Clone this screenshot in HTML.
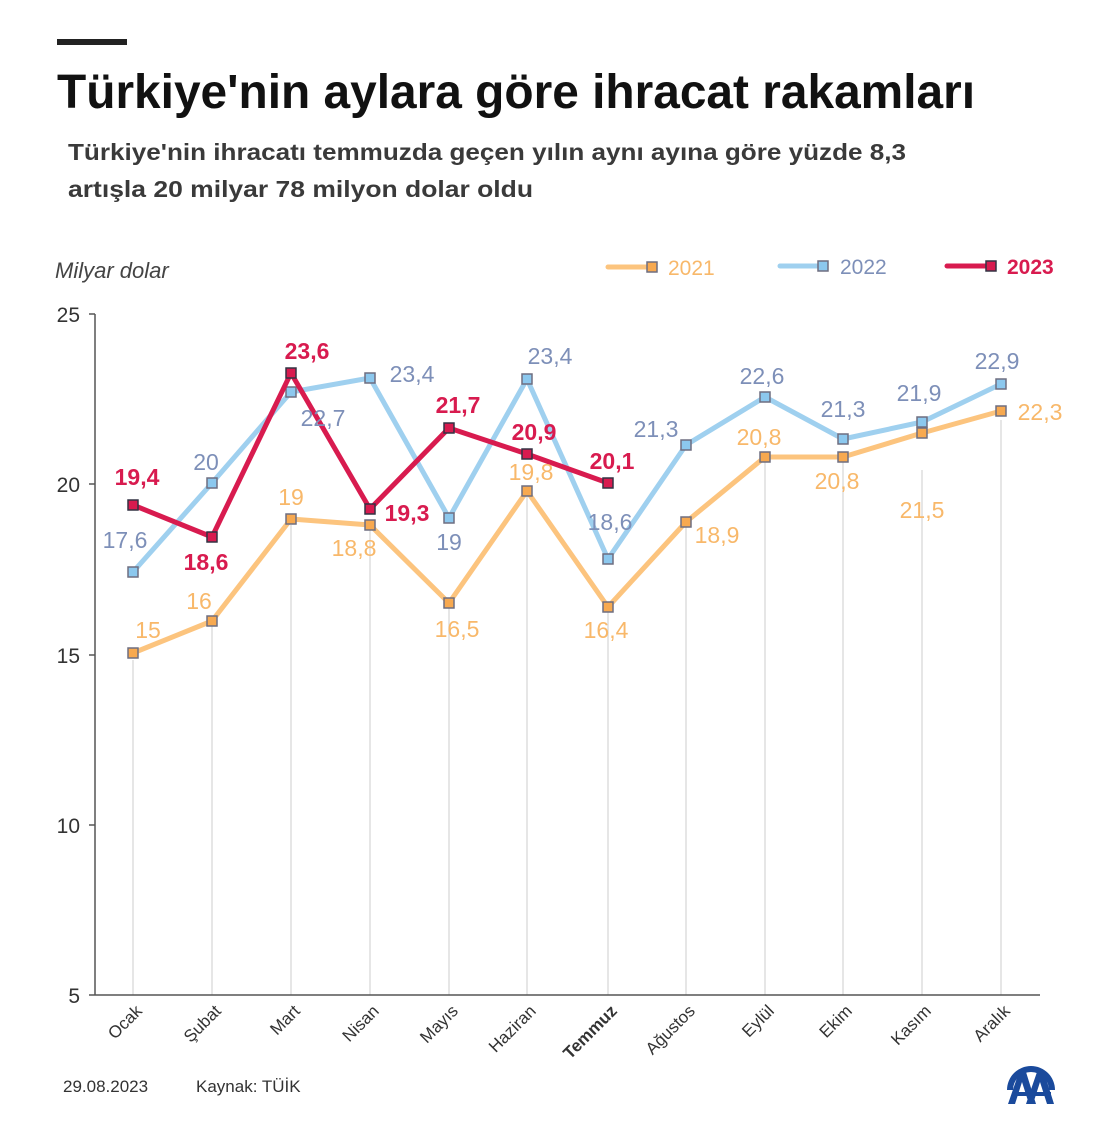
<!DOCTYPE html>
<html><head><meta charset="utf-8"><style>
body{margin:0;background:#fff;}
svg{display:block;font-family:"Liberation Sans",sans-serif;}
</style></head><body>
<svg width="1120" height="1148" viewBox="0 0 1120 1148" xmlns="http://www.w3.org/2000/svg">
<rect x="57" y="39" width="70" height="6" fill="#222"/>
<text x="57" y="108" font-size="48" font-weight="bold" fill="#111" textLength="918" lengthAdjust="spacingAndGlyphs">Türkiye'nin aylara göre ihracat rakamları</text>
<text x="68" y="160" font-size="23" font-weight="bold" fill="#3a3a3a" textLength="838" lengthAdjust="spacingAndGlyphs">Türkiye'nin ihracatı temmuzda geçen yılın aynı ayına göre yüzde 8,3</text>
<text x="68" y="197" font-size="23" font-weight="bold" fill="#3a3a3a" textLength="465" lengthAdjust="spacingAndGlyphs">artışla 20 milyar 78 milyon dolar oldu</text>
<text x="55" y="278" font-size="22" font-style="italic" fill="#444">Milyar dolar</text>
<line x1="608" y1="267" x2="650" y2="267" stroke="#fcc47e" stroke-width="5" stroke-linecap="round"/>
<rect x="647" y="262" width="10" height="10" fill="#f7a950" stroke="#6e6e80" stroke-width="1.5"/>
<text x="668" y="275" font-size="21" fill="#f8b86a">2021</text>
<line x1="780" y1="266" x2="820" y2="266" stroke="#9fd0ef" stroke-width="5" stroke-linecap="round"/>
<rect x="818" y="261" width="10" height="10" fill="#8cc8ee" stroke="#6e6e80" stroke-width="1.5"/>
<text x="840" y="274" font-size="21" fill="#7d8fb8">2022</text>
<line x1="947" y1="266" x2="990" y2="266" stroke="#d81b4f" stroke-width="5" stroke-linecap="round"/>
<rect x="986" y="261" width="10" height="10" fill="#d81b4f" stroke="#333344" stroke-width="1.5"/>
<text x="1007" y="274" font-size="21" font-weight="bold" fill="#d81b4f">2023</text>
<g stroke="#ddd" stroke-width="1.5">
<line x1="133" y1="660" x2="133" y2="995"/><line x1="212" y1="625" x2="212" y2="995"/>
<line x1="291" y1="525" x2="291" y2="995"/><line x1="370" y1="530" x2="370" y2="995"/>
<line x1="449" y1="608" x2="449" y2="995"/><line x1="527" y1="495" x2="527" y2="995"/>
<line x1="608" y1="612" x2="608" y2="995"/><line x1="686" y1="527" x2="686" y2="995"/>
<line x1="765" y1="462" x2="765" y2="995"/><line x1="843" y1="462" x2="843" y2="995"/>
<line x1="922" y1="470" x2="922" y2="995"/><line x1="1001" y1="420" x2="1001" y2="995"/>
</g>
<g stroke="#555" stroke-width="1.5">
<line x1="95" y1="314" x2="95" y2="995"/><line x1="95" y1="995" x2="1040" y2="995"/>
<line x1="89" y1="314" x2="95" y2="314"/><line x1="89" y1="484" x2="95" y2="484"/><line x1="89" y1="655" x2="95" y2="655"/><line x1="89" y1="825" x2="95" y2="825"/><line x1="89" y1="995" x2="95" y2="995"/>
</g>
<g font-size="21" fill="#333" text-anchor="end">
<text x="80" y="322">25</text><text x="80" y="492">20</text><text x="80" y="663">15</text><text x="80" y="833">10</text><text x="80" y="1003">5</text>
</g>
<g font-size="17" fill="#333" text-anchor="end">
<text transform="translate(143,1012) rotate(-45)">Ocak</text>
<text transform="translate(222,1012) rotate(-45)">Şubat</text>
<text transform="translate(301,1012) rotate(-45)">Mart</text>
<text transform="translate(380,1012) rotate(-45)">Nisan</text>
<text transform="translate(459,1012) rotate(-45)">Mayıs</text>
<text transform="translate(537,1012) rotate(-45)">Haziran</text>
<text transform="translate(618,1012) rotate(-45)" font-weight="bold">Temmuz</text>
<text transform="translate(696,1012) rotate(-45)">Ağustos</text>
<text transform="translate(775,1012) rotate(-45)">Eylül</text>
<text transform="translate(853,1012) rotate(-45)">Ekim</text>
<text transform="translate(932,1012) rotate(-45)">Kasım</text>
<text transform="translate(1011,1012) rotate(-45)">Aralık</text>
</g>
<polyline fill="none" stroke="#fcc47e" stroke-width="5" stroke-linejoin="round" points="133,653 212,621 291,519 370,525 449,603 527,491 608,607 686,522 765,457 843,457 922,433 1001,411"/>
<g fill="#f7a950" stroke="#6e6e80" stroke-width="1.5">
<rect x="128" y="648" width="10" height="10"/><rect x="207" y="616" width="10" height="10"/><rect x="286" y="514" width="10" height="10"/><rect x="365" y="520" width="10" height="10"/><rect x="444" y="598" width="10" height="10"/><rect x="522" y="486" width="10" height="10"/><rect x="603" y="602" width="10" height="10"/><rect x="681" y="517" width="10" height="10"/><rect x="760" y="452" width="10" height="10"/><rect x="838" y="452" width="10" height="10"/><rect x="917" y="428" width="10" height="10"/><rect x="996" y="406" width="10" height="10"/>
</g>
<polyline fill="none" stroke="#9fd0ef" stroke-width="5" stroke-linejoin="round" points="133,572 212,483 291,392 370,378 449,518 527,379 608,559 686,445 765,397 843,439 922,422 1001,384"/>
<g fill="#8cc8ee" stroke="#6e6e80" stroke-width="1.5">
<rect x="128" y="567" width="10" height="10"/><rect x="207" y="478" width="10" height="10"/><rect x="286" y="387" width="10" height="10"/><rect x="365" y="373" width="10" height="10"/><rect x="444" y="513" width="10" height="10"/><rect x="522" y="374" width="10" height="10"/><rect x="603" y="554" width="10" height="10"/><rect x="681" y="440" width="10" height="10"/><rect x="760" y="392" width="10" height="10"/><rect x="838" y="434" width="10" height="10"/><rect x="917" y="417" width="10" height="10"/><rect x="996" y="379" width="10" height="10"/>
</g>
<polyline fill="none" stroke="#d81b4f" stroke-width="5" stroke-linejoin="round" points="133,505 212,537 291,373 370,509 449,428 527,454 608,483"/>
<g fill="#d81b4f" stroke="#333344" stroke-width="1.5">
<rect x="128" y="500" width="10" height="10"/><rect x="207" y="532" width="10" height="10"/><rect x="286" y="368" width="10" height="10"/><rect x="365" y="504" width="10" height="10"/><rect x="444" y="423" width="10" height="10"/><rect x="522" y="449" width="10" height="10"/><rect x="603" y="478" width="10" height="10"/>
</g>
<g font-size="23" fill="#f8b86a" text-anchor="middle">
<text x="148" y="638">15</text><text x="199" y="609">16</text><text x="291" y="505">19</text><text x="354" y="556">18,8</text><text x="457" y="637">16,5</text><text x="531" y="480">19,8</text><text x="606" y="638">16,4</text><text x="717" y="543">18,9</text><text x="759" y="445">20,8</text><text x="837" y="489">20,8</text><text x="922" y="518">21,5</text><text x="1040" y="420">22,3</text>
</g>
<g font-size="23" fill="#7d8fb8" text-anchor="middle">
<text x="125" y="548">17,6</text><text x="206" y="470">20</text><text x="323" y="426">22,7</text><text x="412" y="382">23,4</text><text x="449" y="550">19</text><text x="550" y="364">23,4</text><text x="610" y="530">18,6</text><text x="656" y="437">21,3</text><text x="762" y="384">22,6</text><text x="843" y="417">21,3</text><text x="919" y="401">21,9</text><text x="997" y="369">22,9</text>
</g>
<g font-size="23" font-weight="bold" fill="#d81b4f" text-anchor="middle">
<text x="137" y="485">19,4</text><text x="206" y="570">18,6</text><text x="307" y="359">23,6</text><text x="407" y="521">19,3</text><text x="458" y="413">21,7</text><text x="534" y="440">20,9</text><text x="612" y="469">20,1</text>
</g>
<text x="63" y="1092" font-size="17" fill="#333">29.08.2023</text>
<text x="196" y="1092" font-size="17" fill="#333">Kaynak: TÜİK</text>
<g fill="#1a4a9c">
<path d="M1007,1090 A24,24 0 0 1 1055,1090 L1049,1090 A18,18 0 0 0 1013,1090 Z"/>
<path d="M1008,1104 L1019,1072 L1026,1072 L1036,1104 L1029,1104 L1022,1082 L1015,1104 Z"/>
<path d="M1026,1104 L1037,1072 L1044,1072 L1054,1104 L1047,1104 L1040,1082 L1033,1104 Z"/>
<rect x="1013" y="1092" width="38" height="4"/>
</g>
</svg>
</body></html>
